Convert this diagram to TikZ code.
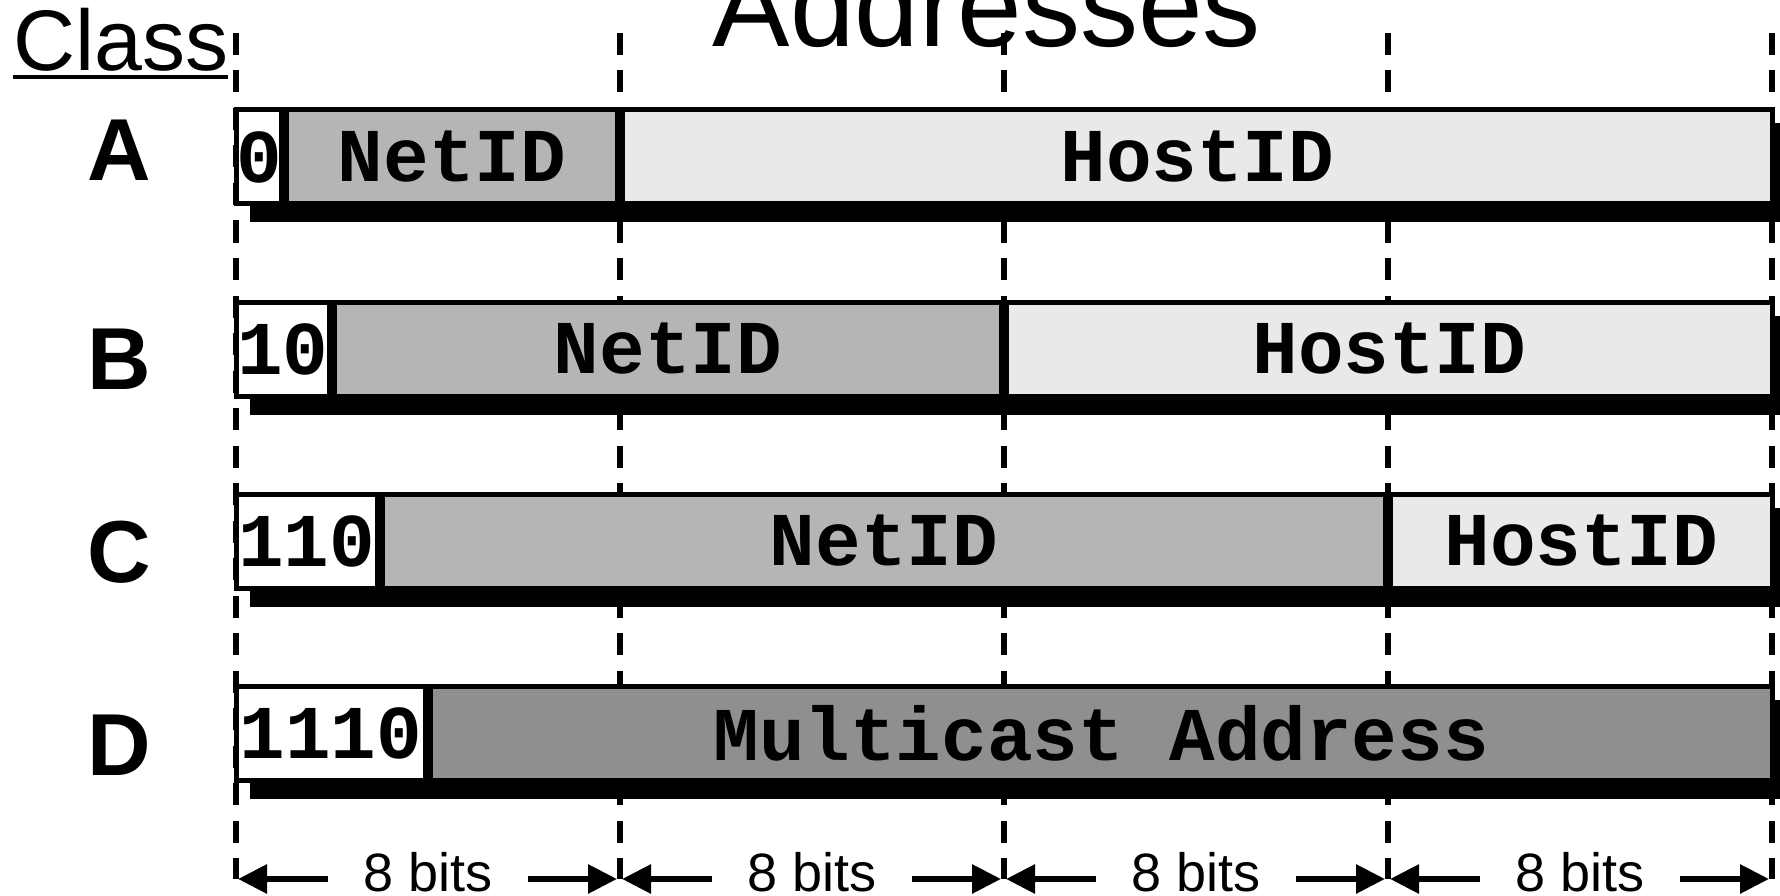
\documentclass[tikz,border=0pt]{standalone}
\usepackage{fontspec}
\setmainfont{Liberation Sans}
\newfontfamily\codefont{Liberation Mono}
\usetikzlibrary{arrows.meta,shadows}
\definecolor{netgray}{gray}{0.71}
\definecolor{hostgray}{gray}{0.915}
\definecolor{mcgray}{gray}{0.56}
\begin{document}
\begin{tikzpicture}[x=1pt,y=-1pt,
  field/.style={draw=black, line width=5pt, inner sep=0pt, outer sep=0pt,
    minimum height=94pt, anchor=west,
    font=\codefont\bfseries\fontsize{76}{76}\selectfont,
    drop shadow={shadow xshift=16pt, shadow yshift=-16pt, fill=black,
      draw=black, line width=5pt, opacity=1}},
  leadbits/.style={field, fill=white},
  netfield/.style={field, fill=netgray},
  hostfield/.style={field, fill=hostgray},
  mcfield/.style={field, fill=mcgray},
  classlbl/.style={font=\bfseries\fontsize{88}{88}\selectfont, anchor=base, inner sep=0pt},
  guide/.style={line width=6pt, dash pattern=on 22pt off 15.5pt},
  dimarrow/.style={line width=6pt, -{Triangle[length=29pt,width=28pt]}},
  bitlbl/.style={font=\fontsize{54}{54}\selectfont, anchor=base, inner sep=0pt, inner xsep=35pt}
]
\useasboundingbox (0,0) rectangle (1780,896);

% byte boundaries
\foreach \i/\x in {0/236,1/620,2/1004,3/1388,4/1772}{
  \coordinate (gt\i) at (\x,33);
  \coordinate (gb\i) at (\x,879);
  \draw[guide] (gt\i) -- (gb\i);
}

% headings
\node[font=\fontsize{116}{116}\selectfont, anchor=base, inner sep=0pt] (title) at (987,47) {Addresses};
\node[font=\fontsize{86}{86}\selectfont, anchor=base west, inner sep=0pt] (cls) at (13,71) {Class};
\draw[line width=4pt] ([yshift=-6pt]cls.base west) -- ([yshift=-6pt]cls.base east);

% class A
\node[classlbl] (la) at (119.5,181) {A};
\node[leadbits, minimum width=45.5pt] (a0) at (236,157) {0};
\node[netfield, minimum width=331pt] (anet) at (286.5,157) {NetID};
\node[hostfield, minimum width=1149.5pt] (ahost) at (622.5,157) {HostID};

% class B
\node[classlbl] (lb) at (119.5,389) {B};
\node[leadbits, minimum width=93.5pt] (b0) at (236,349) {10};
\node[netfield, minimum width=667pt] (bnet) at (334.5,349) {NetID};
\node[hostfield, minimum width=765.5pt] (bhost) at (1006.5,349) {HostID};

% class C
\node[classlbl] (lc) at (119.5,582) {C};
\node[leadbits, minimum width=141.5pt] (c0) at (236,541) {110};
\node[netfield, minimum width=1003pt] (cnet) at (382.5,541) {NetID};
\node[hostfield, minimum width=381.5pt] (chost) at (1390.5,541) {HostID};

% class D
\node[classlbl] (ld) at (119.5,775) {D};
\node[leadbits, minimum width=189.5pt] (d0) at (236,733) {1110};
\node[mcfield, minimum width=1341.5pt] (dmc) at (430.5,733) {Multicast Address};

% byte widths
\foreach \i/\j/\x in {0/1/428,1/2/812,2/3/1196,3/4/1580}{
  \node[bitlbl] (bits\i) at (\x,891) {8 bits};
  \draw[dimarrow] (bits\i.west |- gb\i) -- ([xshift=2pt]gb\i);
  \draw[dimarrow] (bits\i.east |- gb\i) -- ([xshift=-3pt]gb\j);
}
\end{tikzpicture}
\end{document}
